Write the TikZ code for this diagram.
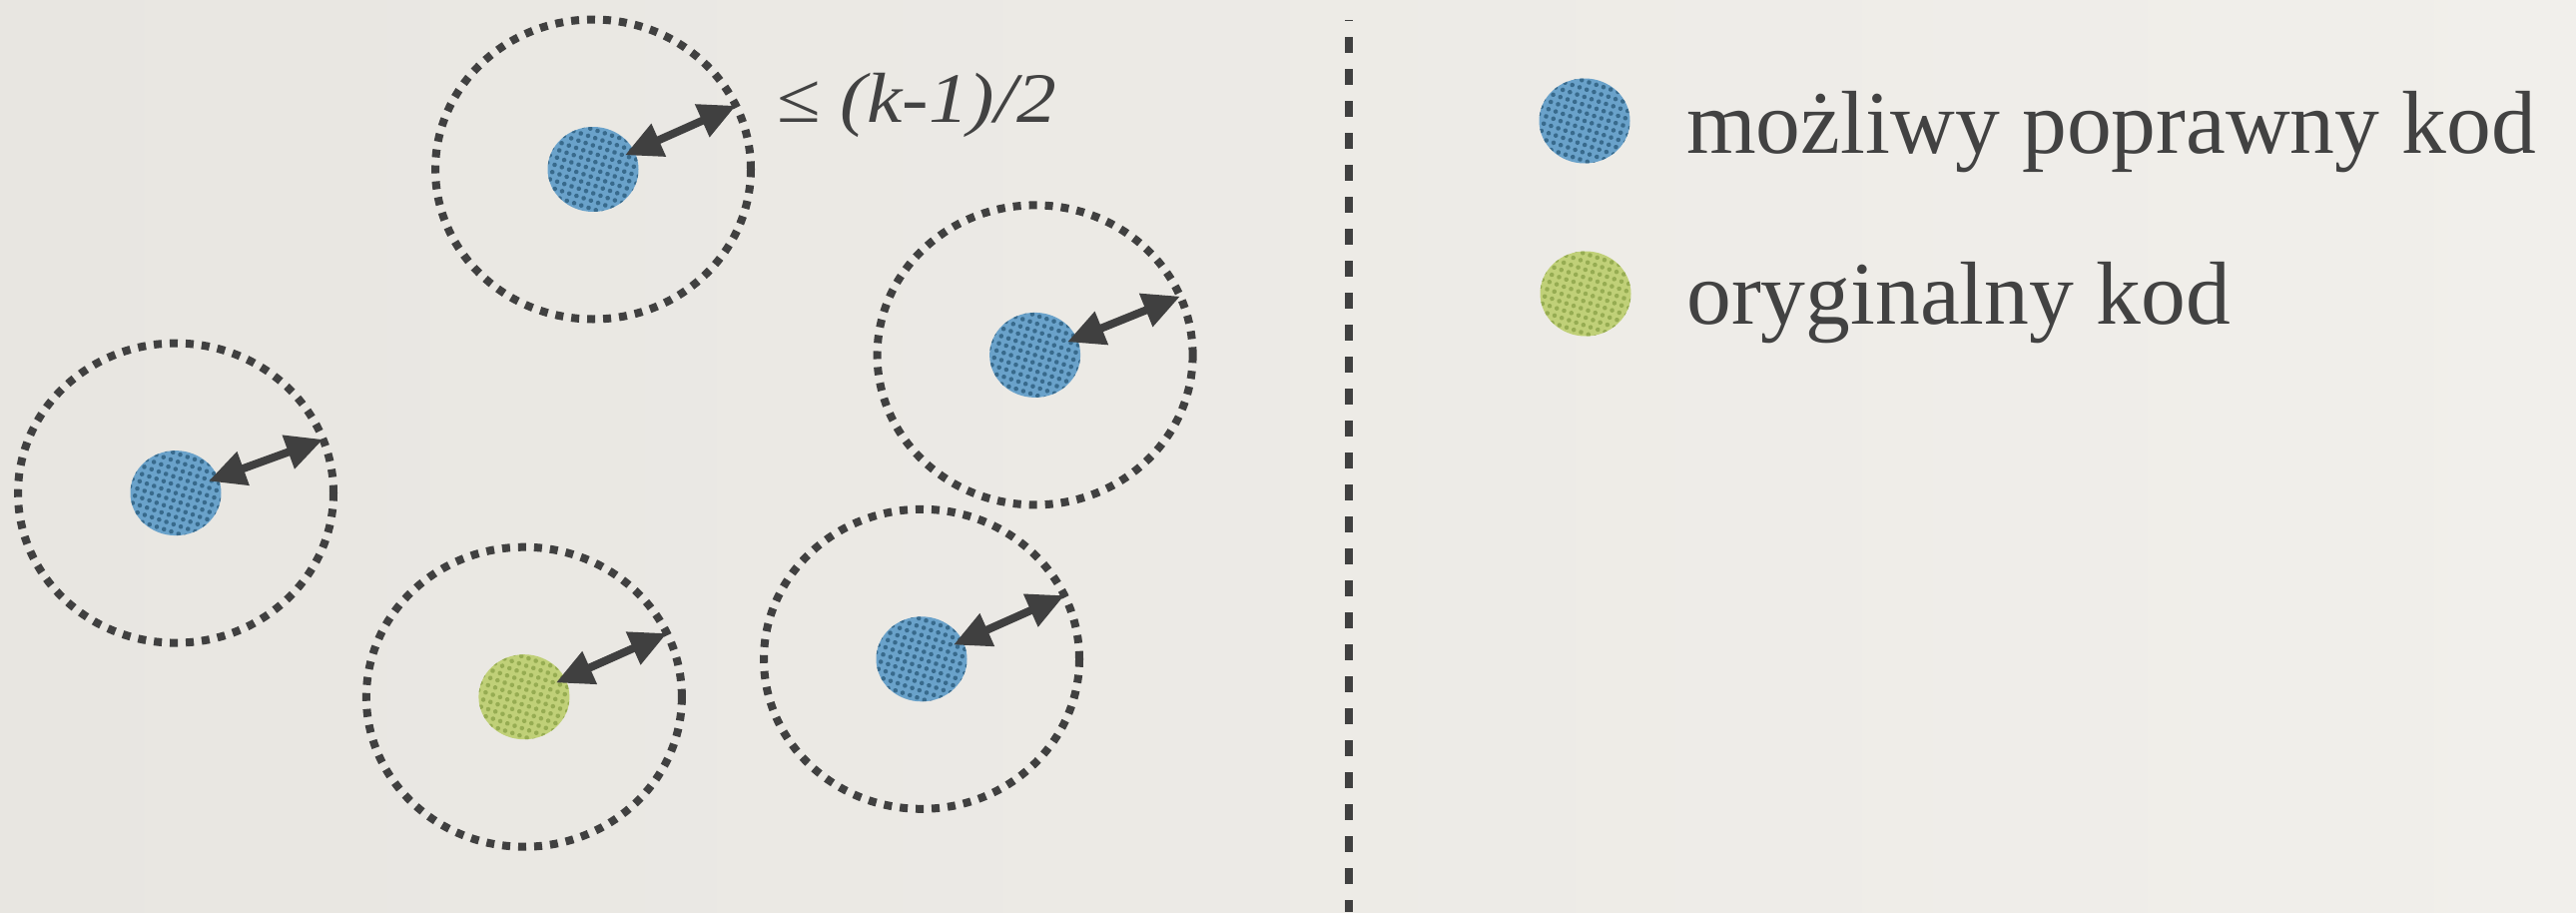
\documentclass[tikz,border=0pt]{standalone}
\usepackage{fontspec}
\setmainfont{Liberation Serif}
\newfontfamily\labfont[FakeStretch=1.12]{Liberation Serif}
\usetikzlibrary{shapes.geometric,arrows.meta,calc}
\definecolor{bgL}{RGB}{232,230,225}
\definecolor{bgR}{RGB}{241,239,235}
\definecolor{ink}{RGB}{64,64,64}
\definecolor{txt}{RGB}{66,66,66}
\definecolor{blueA}{RGB}{106,162,202}
\definecolor{blueB}{RGB}{56,106,140}
\definecolor{greenA}{RGB}{192,208,120}
\definecolor{greenB}{RGB}{150,172,82}
\tikzset{
  ring/.style={ellipse, draw=ink, line width=8pt, dash pattern=on 8pt off 8pt,
    minimum width=316pt, minimum height=300pt, inner sep=0pt, outer sep=0pt},
  spot/.style={ellipse, minimum width=91pt, minimum height=85pt, inner sep=0pt, outer sep=0pt, fill=#1},
  arr/.style={draw=ink, line width=8pt,
    {Triangle[length=37pt,width=34pt]}-{Triangle[length=37pt,width=34pt]}},
  lbl/.style={text=txt, inner sep=0pt, anchor=base west},
  divider/.style={draw=ink, line width=8pt, dash pattern=on 16pt off 16pt, dash phase=15pt}
}
\newcommand\dotgrid[2]{%
  \begin{scope}
    \clip (#1.center) ellipse [x radius=45.5, y radius=42.5];
    \begin{scope}[shift={(#1.center)}, rotate=-18]
      \foreach \i in {-7,...,7}{\foreach \j in {-7,...,7}{\fill[#2] (\i*7.6,\j*7.6) circle (2.3);}}
    \end{scope}
  \end{scope}}
\begin{document}
\begin{tikzpicture}[x=1pt,y=1pt]
  \shade[left color=bgL, right color=bgR] (0,0) rectangle (2580,-913);
  \useasboundingbox (0,0) rectangle (2580,-913);

  % rings
  \node[ring] (rA) at (594,-169.5) {};
  \node[ring] (rB) at (1036.6,-355.4) {};
  \node[ring] (rC) at (176,-493.6) {};
  \node[ring] (rD) at (524.9,-697.7) {};
  \node[ring] (rE) at (923,-659.8) {};

  % spots
  \node[spot=blueA] (dA) at (rA.center) {};
  \node[spot=blueA] (dB) at (rB.center) {};
  \node[spot=blueA] (dC) at (rC.center) {};
  \node[spot=greenA] (dD) at (rD.center) {};
  \node[spot=blueA] (dE) at (rE.center) {};
  \node[spot=blueA] (lgB) at (1587,-121) {};
  \node[spot=greenA] (lgG) at (1588,-294) {};
  \dotgrid{dA}{blueB}
  \dotgrid{dB}{blueB}
  \dotgrid{dC}{blueB}
  \dotgrid{dD}{greenB}
  \dotgrid{dE}{blueB}
  \dotgrid{lgB}{blueB}
  \dotgrid{lgG}{greenB}

  % arrows
  \draw[arr] ($(dA.center)!35pt!(rA.24)$) -- (rA.24);
  \draw[arr] ($(dB.center)!35pt!(rB.22)$) -- (rB.22);
  \draw[arr] ($(dC.center)!35pt!(rC.20)$) -- (rC.20);
  \draw[arr] ($(dD.center)!35pt!(rD.24)$) -- (rD.24);
  \draw[arr] ($(dE.center)!35pt!(rE.24)$) -- (rE.24);

  % label
  \node[lbl] (lab) at (778,-122) {\fontsize{71pt}{80pt}\labfont ≤ \itshape(k-1)/2};

  % divider
  \coordinate (vtop) at (1351,-20);
  \coordinate (vbot) at (1351,-913);
  \draw[divider] (vtop) -- (vbot);

  % legend
  \node[lbl] (t1) at (1689,-153) {\fontsize{89.6pt}{100pt}\selectfont możliwy poprawny kod};
  \node[lbl] (t2) at (1689,-324) {\fontsize{89.6pt}{100pt}\selectfont oryginalny kod};
\end{tikzpicture}
\end{document}
